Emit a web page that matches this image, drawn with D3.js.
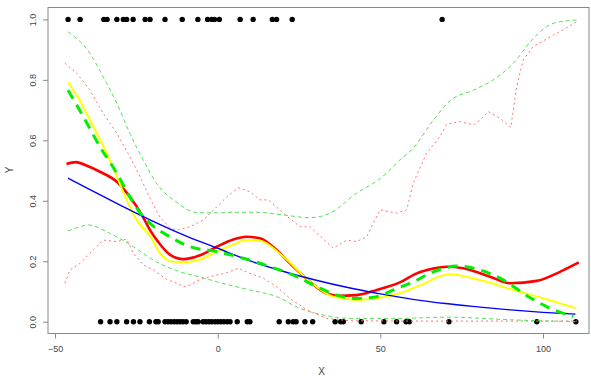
<!DOCTYPE html>
<html>
<head>
<meta charset="utf-8">
<script src="https://cdn.jsdelivr.net/npm/d3@7/dist/d3.min.js"></script>
<style>
  html, body { margin: 0; padding: 0; background: #fff; }
  svg { display: block; }
  text { font-family: "Liberation Sans", Arial, Helvetica, sans-serif; fill: #444; }
</style>
</head>
<body>
<svg id="chart" width="591" height="376"></svg>
<script>
// Observed binary outcomes
const pointsAtOne = [-46.0, -42.3, -35.0, -34.0, -31.0, -29.0, -28.0, -26.0, -22.3, -20.8,
  -16.2, -10.9, -6.1, -3.1, -1.8, -1.0, 0.5, 6.9, 10.9, 16.8, 18.1, 22.9, 69.0];
const pointsAtZero = [-36.0, -33.1, -31.0, -28.0, -25.9, -23.9, -21.0, -19.0, -18.3,
  -16.2, -15.3, -14.4, -13.4, -12.5, -11.6, -10.7, -9.7, -7.5, -6.7, -6.0,
  -4.5, -3.6, -2.7, -1.8, -0.8, 0.1, 1.0, 1.9, 2.9, 3.8, 6.0, 9.1, 9.9,
  18.9, 21.7, 23.2, 24.1, 26.8, 29.2, 36.1, 37.8, 38.6, 44.1, 51.1, 55.0,
  57.9, 58.9, 71.1, 98.1, 110.1];

// Logistic fit
const blueX = [-46, -40, -30, -20, -10, 0, 10, 20, 30, 40, 50, 60, 70, 80, 90, 100, 110];
const blueY = [0.475, 0.441, 0.386, 0.333, 0.285, 0.243, 0.201, 0.167, 0.138, 0.113,
  0.092, 0.074, 0.060, 0.049, 0.039, 0.031, 0.025];

// Smooth estimate (red, thick)
const redX = [-46.5, -43.6, -40, -36.2, -31, -27, -23, -20.8, -18, -14.7, -10.6, -5.4,
  -0.3, 4.8, 8.9, 13, 18.1, 22.2, 28.4, 32.5, 36.6, 42.7, 48.9, 56, 61.2, 66, 70.4,
  75.5, 83.7, 89.9, 98.1, 105.2, 111];
const redY = [0.522, 0.528, 0.515, 0.496, 0.463, 0.413, 0.347, 0.303, 0.26, 0.222, 0.207,
  0.22, 0.248, 0.272, 0.281, 0.276, 0.237, 0.193, 0.132, 0.099, 0.086, 0.088, 0.105,
  0.13, 0.16, 0.175, 0.182, 0.177, 0.149, 0.127, 0.135, 0.165, 0.196];

// Pointwise band for the red estimate (dotted)
const redUpX = [-47, -43.3, -39.3, -35.2, -31, -27, -23.9, -20.8, -17.7, -14.6, -12.6,
  -8.5, -4.4, -0.3, 2.8, 6.3, 9.9, 13, 15.6, 20.2, 25.3, 28.4, 35.5, 39.7, 42.7, 45.8,
  49.9, 55, 58.1, 60.1, 64.2, 68.3, 70.4, 74.5, 78.6, 80.6, 83.2, 86.8, 90.1, 91.9,
  93.9, 97, 103.2, 110.4];
const redUpY = [0.855, 0.822, 0.766, 0.689, 0.623, 0.546, 0.48, 0.408, 0.345, 0.31, 0.303,
  0.314, 0.336, 0.38, 0.413, 0.443, 0.43, 0.403, 0.403, 0.359, 0.314, 0.314, 0.243,
  0.27, 0.265, 0.281, 0.37, 0.359, 0.37, 0.458, 0.557, 0.612, 0.653, 0.662, 0.651,
  0.667, 0.695, 0.673, 0.643, 0.777, 0.866, 0.91, 0.948, 0.992];
const redLoX = [-47, -45.4, -42.3, -39.3, -35.2, -31, -28, -25.9, -22.9, -19.8, -15.7,
  -12, -10.6, -8.5, -5.4, -2.4, 2.8, 6.3, 9.9, 14, 18.1, 22.2, 27.4, 33.5, 40.7, 60,
  80, 110.4];
const redLoY = [0.127, 0.171, 0.193, 0.226, 0.27, 0.265, 0.273, 0.226, 0.188, 0.171, 0.14,
  0.125, 0.116, 0.121, 0.14, 0.149, 0.162, 0.177, 0.16, 0.144, 0.116, 0.077, 0.039,
  0.011, 0.003, 0.002, 0.002, 0.002];

// Alternative smooth (yellow)
const yellowX = [-46, -42.8, -38.2, -34.1, -31, -28, -24.9, -20.8, -17.7, -13.6, -10.6,
  -5.4, -0.3, 4.8, 8.9, 13, 20.2, 28.4, 35.5, 42.7, 50.9, 56, 62.3, 71.1, 80.6, 90.9,
  101.1, 110.3];
const yellowY = [0.792, 0.739, 0.645, 0.557, 0.48, 0.403, 0.336, 0.284, 0.226, 0.198, 0.197,
  0.206, 0.232, 0.255, 0.27, 0.268, 0.215, 0.132, 0.083, 0.072, 0.082, 0.094, 0.121,
  0.157, 0.138, 0.105, 0.074, 0.044];

// Third smooth (green, thick dashed) and its band (green, thin dashed)
const greenX = [-46, -41.3, -36.2, -31, -27, -22.9, -20.8, -14.7, -8.5, -0.3, 7.9, 16.1,
  24.3, 30.4, 36.6, 42.7, 48.9, 54, 60.1, 66.3, 73.5, 80.6, 88.8, 93.9, 101.1, 109.3];
const greenY = [0.766, 0.678, 0.579, 0.491, 0.413, 0.347, 0.325, 0.281, 0.248, 0.232, 0.21,
  0.182, 0.149, 0.116, 0.088, 0.077, 0.083, 0.105, 0.132, 0.165, 0.184, 0.171, 0.132,
  0.094, 0.05, 0.017];
const greenUpX = [-46, -39.3, -35.2, -31, -27, -22.9, -18.8, -12.6, -6.5, 0, 4.8, 12, 20.2,
  28.4, 34.5, 42.7, 50, 56, 60.1, 66.3, 71.4, 78.6, 84.7, 90.9, 97, 103.2, 110.4];
const greenUpY = [0.959, 0.888, 0.81, 0.722, 0.623, 0.535, 0.458, 0.395, 0.361, 0.36, 0.362,
  0.362, 0.353, 0.344, 0.359, 0.425, 0.474, 0.535, 0.574, 0.667, 0.731, 0.766, 0.8,
  0.855, 0.937, 0.987, 0.998];
const greenLoX = [-46, -42, -39.8, -33.1, -25.9, -19.8, -11.6, -5.4, -0.3, 9.9, 18.1, 25.3,
  32.5, 40.7, 56, 70.4, 90.9, 110];
const greenLoY = [0.30, 0.315, 0.32, 0.292, 0.248, 0.204, 0.165, 0.148, 0.132, 0.105, 0.083,
  0.044, 0.022, 0.011, 0.011, 0.015, 0.006, 0.0];

const xTicks = [-50, 0, 50, 100];
const yTicks = [0, 0.2, 0.4, 0.6, 0.8, 1.0];

const svg = d3.select("#chart");
const box = { left: 48, right: 589, top: 7.5, bottom: 333.5 };

// -50 and 100 sit at 55 and 543 px; 0 and 1 at 321.7 and 19.4 px
const x = d3.scaleLinear().domain([-50, 100]).range([55.05, 543.0]);
const y = d3.scaleLinear().domain([0, 1]).range([321.7, 19.4]);

const zip = (xs, ys) => xs.map((v, i) => [v, ys[i]]);

svg.append("defs").append("clipPath").attr("id", "plotclip")
  .append("rect")
  .attr("x", box.left).attr("y", box.top)
  .attr("width", box.right - box.left).attr("height", box.bottom - box.top);

const plot = svg.append("g").attr("clip-path", "url(#plotclip)");

// observations
plot.selectAll("circle.one").data(pointsAtOne).join("circle")
  .attr("cx", d => x(d)).attr("cy", y(1)).attr("r", 2.7).attr("fill", "#000");
plot.selectAll("circle.zero").data(pointsAtZero).join("circle")
  .attr("cx", d => x(d)).attr("cy", y(0)).attr("r", 2.7).attr("fill", "#000");

const smooth = d3.line().x(d => x(d[0])).y(d => y(d[1])).curve(d3.curveMonotoneX);
const straight = d3.line().x(d => x(d[0])).y(d => y(d[1]));

function draw(data, gen, color, width, dash) {
  plot.append("path")
    .attr("d", gen(data))
    .attr("fill", "none")
    .attr("stroke", color)
    .attr("stroke-width", width)
    .attr("stroke-dasharray", dash || null)
    .attr("stroke-linejoin", "round");
}

draw(zip(redUpX, redUpY), straight, "#ff7070", 1, "2,3");
draw(zip(redLoX, redLoY), straight, "#ff7070", 1, "2,3");
draw(zip(greenUpX, greenUpY), smooth, "#55e055", 1, "4,3");
draw(zip(greenLoX, greenLoY), smooth, "#55e055", 1, "4,3");
draw(zip(redX, redY), smooth, "#ff0000", 2.6);
draw(zip(yellowX, yellowY), smooth, "#ffff00", 2);
draw(zip(blueX, blueY), smooth, "#0000ff", 1.4);
draw(zip(greenX, greenY), smooth, "#00ee00", 3, "10,7");

// frame
svg.append("rect")
  .attr("x", box.left).attr("y", box.top)
  .attr("width", box.right - box.left).attr("height", box.bottom - box.top)
  .attr("fill", "none").attr("stroke", "#888").attr("stroke-width", 1);

// x axis
const xAxis = svg.append("g").attr("transform", `translate(0,${box.bottom})`)
  .call(d3.axisBottom(x).tickValues(xTicks).tickSize(5).tickPadding(7)
    .tickFormat(d => (d < 0 ? "\u2212" + Math.abs(d) : String(d))));
xAxis.select(".domain").remove();
xAxis.selectAll("line").attr("stroke", "#888");
xAxis.selectAll("text").attr("font-size", 9).attr("fill", "#444")
  .attr("font-family", "Liberation Sans, Arial, sans-serif");

// y axis with labels running up the axis
const yAxis = svg.append("g").attr("transform", `translate(${box.left},0)`)
  .call(d3.axisLeft(y).tickValues(yTicks).tickSize(5).tickFormat(d3.format(".1f")));
yAxis.select(".domain").remove();
yAxis.selectAll("line").attr("stroke", "#888");
yAxis.selectAll("text")
  .attr("font-size", 9).attr("fill", "#444")
  .attr("font-family", "Liberation Sans, Arial, sans-serif")
  .attr("x", null).attr("dy", null)
  .attr("text-anchor", "middle")
  .attr("transform", "translate(-12,0) rotate(-90)");

// axis titles
svg.append("text").attr("x", 321.7).attr("y", 375).attr("text-anchor", "middle")
  .attr("font-size", 10).text("X");
svg.append("text").attr("transform", "translate(13,170) rotate(-90)")
  .attr("text-anchor", "middle").attr("font-size", 10).text("Y");
</script>
</body>
</html>
